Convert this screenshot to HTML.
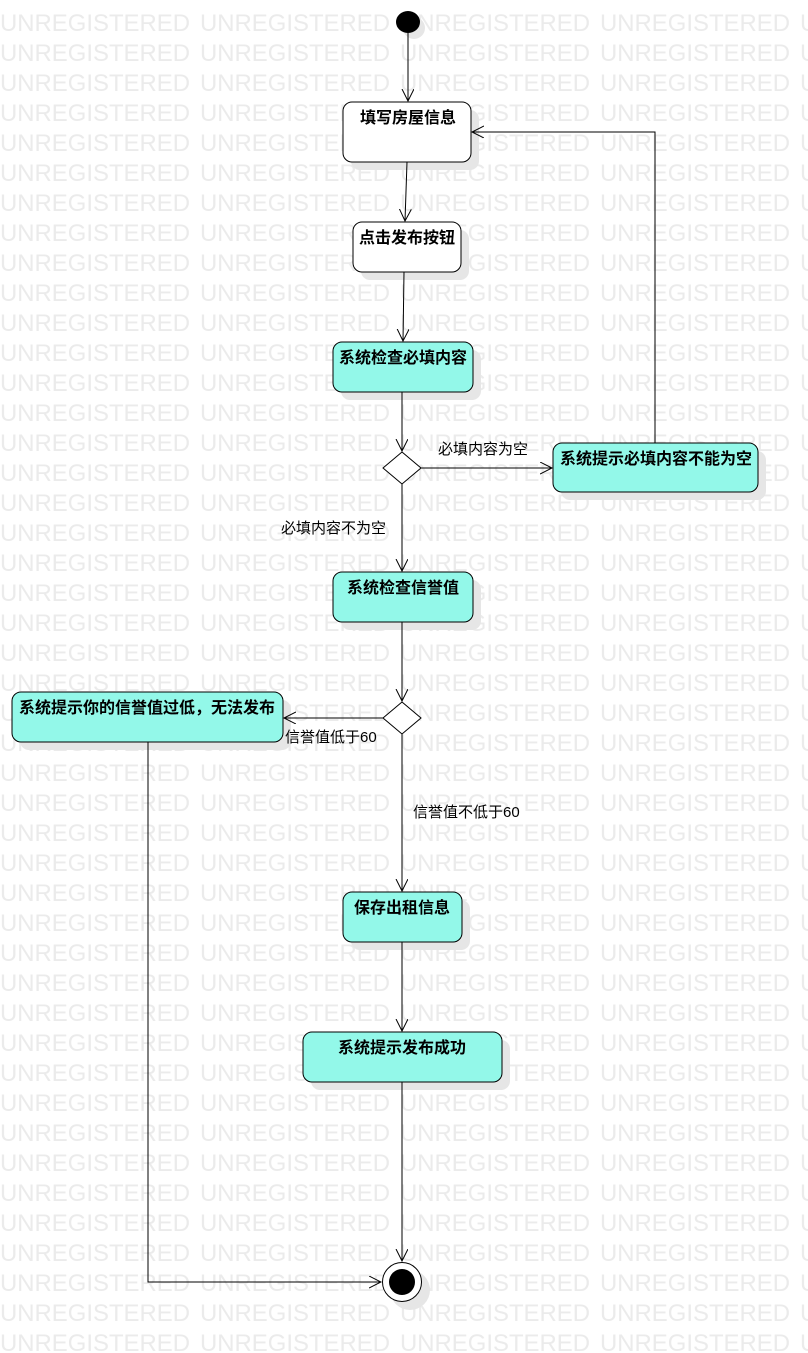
<!DOCTYPE html>
<html><head><meta charset="utf-8"><style>
html,body{margin:0;padding:0;background:#fff;}
svg{display:block;}
.wm{font-family:"Liberation Sans",sans-serif;font-size:24px;fill:#ebebeb;}
.t{font-family:"Liberation Sans","Noto Sans CJK SC",sans-serif;font-size:16px;font-weight:bold;fill:#000;}
.l{font-family:"Liberation Sans","Noto Sans CJK SC",sans-serif;font-size:15px;fill:#000;}
</style></head><body>
<svg width="808" height="1353" viewBox="0 0 808 1353" xmlns="http://www.w3.org/2000/svg">
<defs>
<marker id="a" markerWidth="14" markerHeight="14" refX="12" refY="6" orient="auto" markerUnits="userSpaceOnUse">
<path d="M0,0 L12,6 L0,12" fill="none" stroke="#000" stroke-width="1"/></marker>
</defs>
<g class="wm" id="wm"></g>
<g fill="#e6e6e6">
<rect x="351" y="110" width="128" height="60" rx="9"/>
<rect x="361" y="230" width="108" height="50" rx="9"/>
<rect x="341" y="350" width="140" height="50" rx="9"/>
<rect x="561" y="451" width="205" height="49" rx="9"/>
<rect x="341" y="580" width="140" height="50" rx="9"/>
<rect x="20" y="700" width="271" height="50" rx="9"/>
<rect x="351" y="900" width="119" height="50" rx="9"/>
<rect x="311" y="1040" width="199" height="50" rx="9"/>
<circle cx="410" cy="1290" r="20"/>
<circle cx="414" cy="28" r="11"/>
</g>
<g stroke="#000" stroke-width="1" fill="none">
<line x1="408" y1="33" x2="408" y2="101" marker-end="url(#a)"/>
<line x1="407" y1="162" x2="405" y2="221" marker-end="url(#a)"/>
<line x1="404" y1="272" x2="403" y2="341" marker-end="url(#a)"/>
<line x1="402" y1="392" x2="402" y2="451" marker-end="url(#a)"/>
<line x1="421" y1="468" x2="552" y2="468" marker-end="url(#a)"/>
<polyline points="655,443 655,132 472,132" marker-end="url(#a)"/>
<line x1="402" y1="484" x2="402" y2="571" marker-end="url(#a)"/>
<line x1="402" y1="622" x2="402" y2="701" marker-end="url(#a)"/>
<line x1="383" y1="718" x2="284" y2="718" marker-end="url(#a)"/>
<polyline points="148,742 148,1282 381,1282" marker-end="url(#a)"/>
<line x1="402" y1="734" x2="402" y2="891" marker-end="url(#a)"/>
<line x1="402" y1="942" x2="402" y2="1031" marker-end="url(#a)"/>
<line x1="402" y1="1082" x2="402" y2="1261" marker-end="url(#a)"/>
</g>
<ellipse cx="408" cy="22" rx="12" ry="11" fill="#000"/>
<g stroke="#000" stroke-width="1">
<rect x="343" y="102" width="128" height="60" rx="9" fill="#fff"/>
<rect x="353" y="222" width="108" height="50" rx="9" fill="#fff"/>
<rect x="333" y="342" width="140" height="50" rx="9" fill="#93f8e9"/>
<rect x="553" y="443" width="205" height="49" rx="9" fill="#93f8e9"/>
<rect x="333" y="572" width="140" height="50" rx="9" fill="#93f8e9"/>
<rect x="12" y="692" width="271" height="50" rx="9" fill="#93f8e9"/>
<rect x="343" y="892" width="119" height="50" rx="9" fill="#93f8e9"/>
<rect x="303" y="1032" width="199" height="50" rx="9" fill="#93f8e9"/>
<polygon points="402,452 421,468 402,484 383,468" fill="#fff"/>
<polygon points="402,702 421,718 402,734 383,718" fill="#fff"/>
<circle cx="402" cy="1282" r="19.5" fill="#fff"/>
</g>
<circle cx="402" cy="1282" r="13" fill="#000"/>
<g class="t" text-anchor="middle">
<text x="408" y="123">填写房屋信息</text>
<text x="407" y="243">点击发布按钮</text>
<text x="403" y="363">系统检查必填内容</text>
<text x="656" y="464">系统提示必填内容不能为空</text>
<text x="403" y="593">系统检查信誉值</text>
<text x="147" y="713">系统提示你的信誉值过低，无法发布</text>
<text x="402" y="913">保存出租信息</text>
<text x="402" y="1053">系统提示发布成功</text>
</g>
<g class="l">
<text x="438" y="454">必填内容为空</text>
<text x="281" y="533">必填内容不为空</text>
<text x="285" y="742">信誉值低于60</text>
<text x="413" y="817">信誉值不低于60</text>
</g>
</svg>
<script>
(function(){var g=document.getElementById('wm');var ns='http://www.w3.org/2000/svg';
for(var y=31;y<1360;y+=30){for(var x=0;x<808;x+=200){var t=document.createElementNS(ns,'text');t.setAttribute('x',x);t.setAttribute('y',y);t.setAttribute('textLength','190');t.setAttribute('lengthAdjust','spacingAndGlyphs');t.textContent='UNREGISTERED';g.appendChild(t);}}})();
</script>
</body></html>
